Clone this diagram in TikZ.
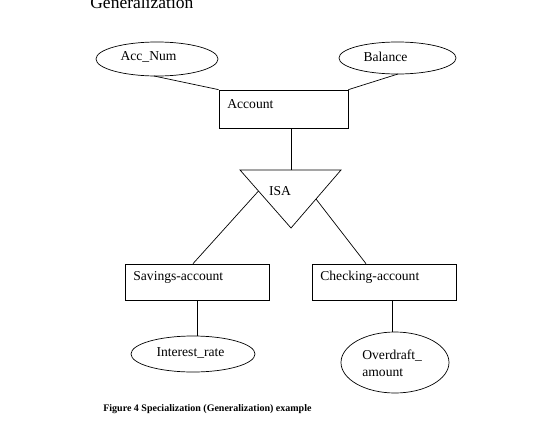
\documentclass[tikz,border=0pt]{standalone}
\usepackage{fontspec}
\setmainfont{Liberation Serif}
\usetikzlibrary{shapes.geometric}
\begin{document}
\begin{tikzpicture}[x=1pt,y=-1pt,
  line width=0.7pt,
  attr/.style={draw,ellipse,inner sep=0pt},
  ent/.style={draw,rectangle,inner sep=0pt},
  lbl/.style={font=\fontsize{13.6}{16}\selectfont,inner sep=0pt},
  conn/.style={draw,line width=0.7pt}]
\useasboundingbox (0,0) rectangle (546,434);
% title (cropped at top)
\node[anchor=base west,inner sep=0pt,font=\fontsize{17.5}{20}\selectfont] (title) at (90,8) {Generalization};
% attributes of Account
\node[attr,minimum width=122pt,minimum height=34pt] (accnum) at (157,59) {};
\node[lbl] (accnumt) at (148.5,57) {Acc\_Num};
\node[attr,minimum width=117pt,minimum height=32pt] (bal) at (397.5,58) {};
\node[lbl] (balt) at (385.5,57) {Balance};
% Account entity
\node[ent,minimum width=129pt,minimum height=38pt] (account) at (283.5,109) {};
\node[lbl,anchor=west] (accountt) at (227,104) {Account};
\coordinate (accnumb) at (154,76);
\coordinate (balb) at (398,74);
\draw[conn] (accnumb) -- (account.north west);
\draw[conn] (balb) -- (account.north east);
% ISA triangle
\coordinate (tl) at (240,170);
\coordinate (tr) at (341,170);
\coordinate (tb) at (291,228);
\coordinate (ttop) at (291,170);
\draw[line join=miter] (tl) -- (tr) -- (tb) -- cycle;
\node[lbl] (isa) at (280,191) {ISA};
\draw[conn] (account.south -| ttop) -- (ttop);
\coordinate (isal) at (258.5,191);
\coordinate (isar) at (316,199);
% subclasses
\node[ent,minimum width=144pt,minimum height=36pt] (sav) at (197,282) {};
\node[lbl,anchor=west] (savt) at (133,277) {Savings-account};
\node[ent,minimum width=144pt,minimum height=36pt] (chk) at (384,282) {};
\node[lbl,anchor=west] (chkt) at (320,277) {Checking-account};
\draw[conn] (isal) -- (sav.north -| 193,0);
\draw[conn] (isar) -- (chk.north -| 366,0);
% subclass attributes
\node[attr,minimum width=124pt,minimum height=36pt] (irate) at (193,354) {};
\node[lbl] (iratet) at (190.5,353) {Interest\_rate};
\node[attr,minimum width=108pt,minimum height=61pt] (od) at (395,362.5) {};
\node[lbl,anchor=west,align=left,font=\fontsize{13.6}{17}\selectfont] (odt) at (362,363) {Overdraft\_\\amount};
\draw[conn] (sav.south) -- (irate.north -| sav.south);
\draw[conn] (chk.south -| 392,0) -- (od.north -| 392,0);
% caption
\node[anchor=west,inner sep=0pt,font=\fontsize{10}{12}\selectfont\bfseries] (cap) at (103,409) {Figure 4 Specialization (Generalization) example};
\end{tikzpicture}
\end{document}
